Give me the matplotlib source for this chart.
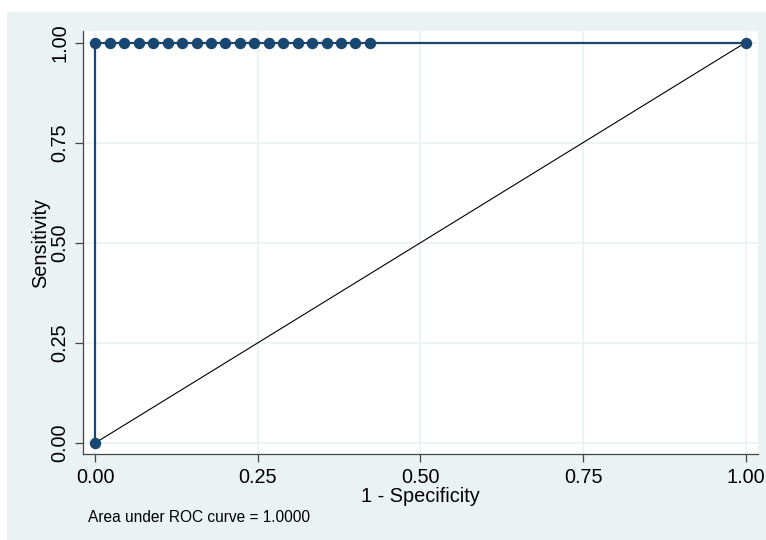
import matplotlib.pyplot as plt

# ROC points
fpr = [0.0, 0.0, 0.0222, 0.0444, 0.0667, 0.0889, 0.1111, 0.1333, 0.1556, 0.1778,
       0.2000, 0.2222, 0.2444, 0.2667, 0.2889, 0.3111, 0.3333, 0.3556, 0.3778,
       0.4000, 0.4222, 1.0]
tpr = [0.0, 1.0, 1.0, 1.0, 1.0, 1.0, 1.0, 1.0, 1.0, 1.0,
       1.0, 1.0, 1.0, 1.0, 1.0, 1.0, 1.0, 1.0, 1.0,
       1.0, 1.0, 1.0]
ref_x = [0.0, 1.0]
ref_y = [0.0, 1.0]
ticks = [0.0, 0.25, 0.5, 0.75, 1.0]
tick_labels = ["0.00", "0.25", "0.50", "0.75", "1.00"]
auc_text = "Area under ROC curve = 1.0000"

plt.rcParams['font.family'] = ['Liberation Sans', 'DejaVu Sans']

bg = "#EAF2F3"
navy = "#1a476f"

fig = plt.figure(figsize=(7.66, 5.40), dpi=100, facecolor="white")
# shaded graph region, drawn behind the axes
fig.patches.append(plt.Rectangle((7 / 766, 0), 1 - 7 / 766, 1 - 12 / 540,
                                 transform=fig.transFigure, facecolor=bg,
                                 edgecolor="none", zorder=-5))

ax = fig.add_axes([83 / 766, 1 - 454 / 540, (758 - 83) / 766, (454 - 31) / 540])
ax.set_facecolor("white")

ax.plot(fpr, tpr, color=navy, lw=1.6, marker="o", markersize=7.2,
        markerfacecolor=navy, markeredgecolor=navy, zorder=3, clip_on=False)
ax.plot(ref_x, ref_y, color="black", lw=0.8, zorder=2)

ax.set_xlim(-0.0192, 1.0192)
ax.set_ylim(-0.028, 1.029)

ax.set_xticks(ticks)
ax.set_xticklabels(tick_labels)
ax.set_yticks(ticks)
ax.set_yticklabels(tick_labels, rotation=90, va="center")

ax.grid(True, color=bg, lw=1.2)
ax.set_axisbelow(True)

for s in ["top", "right"]:
    ax.spines[s].set_visible(False)
for s in ["left", "bottom"]:
    ax.spines[s].set_color("#444444")
    ax.spines[s].set_linewidth(0.9)

ax.tick_params(axis="both", direction="out", length=6, width=0.9,
               color="#444444", labelsize=14.3, labelcolor="black", pad=4)

ax.set_xlabel("1 - Specificity", fontsize=14.3, labelpad=0)
ax.set_ylabel("Sensitivity", fontsize=14.3, labelpad=0)

fig.text(88 / 766, 1 - 518 / 540, auc_text, fontsize=11.2, va="center", ha="left")

fig.savefig("out.png", dpi=100, facecolor=fig.get_facecolor())
